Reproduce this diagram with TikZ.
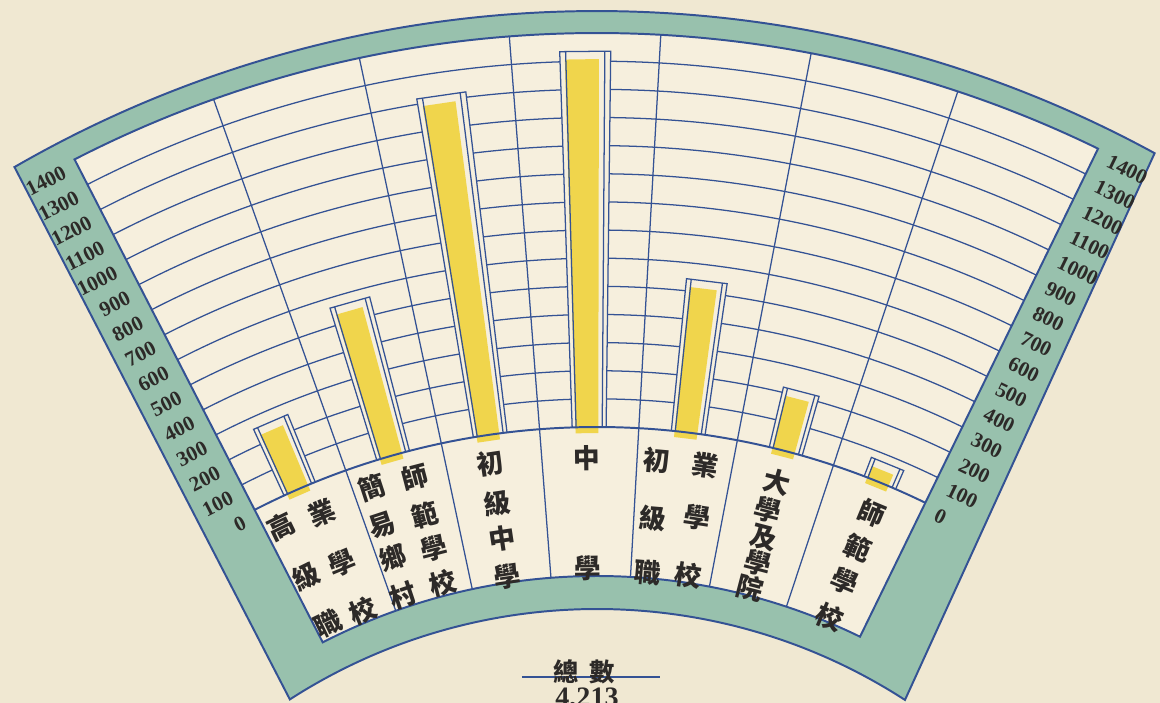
\documentclass[tikz,border=0pt]{standalone}
\usepackage{fontspec}
\setmainfont{Liberation Serif}
\newfontfamily\cjk{Noto Sans CJK TC}
\usepackage{tikz}
\usetikzlibrary{calc}

\definecolor{paper}{RGB}{240,232,210}
\definecolor{fanwhite}{RGB}{246,239,221}
\definecolor{bandgreen}{RGB}{152,193,173}
\definecolor{lineblue}{RGB}{52,82,148}
\definecolor{baryellow}{RGB}{240,213,76}
\definecolor{ink}{RGB}{45,42,40}

\begin{document}
\begin{tikzpicture}[
    x = 0.025cm, y = 0.025cm,
    gridline/.style = {draw=lineblue, line width=0.9pt},
    fanline/.style = {draw=lineblue, line width=1.4pt},
    numlabel/.style = {text=ink, inner sep=0pt, font=\fontsize{15}{15}\selectfont\bfseries},
    hanzi/.style = {text=ink, inner sep=0pt, font=\cjk\bfseries\fontsize{19}{19}\selectfont}
  ]
  \path[fill=paper, use as bounding box] (-597,473) rectangle (563,1176);

  % green frame and fan
  \path[fill=bandgreen, fanline] (61.4:1165) arc[start angle=61.4, end angle=120, radius=1165]
    -- (122.8:567) arc[start angle=122.8, end angle=57.1, radius=567] -- cycle;
  \path[fill=fanwhite] (64:600) -- (64:1143) arc[start angle=64, end angle=117.2, radius=1143]
    -- (117.2:600) arc[start angle=117.2, end angle=64, radius=600] -- cycle;

  % grid
  \foreach \v [evaluate=\v as \r using 749+28.14*\v] in {1,...,13}
    \draw[gridline] (64:\r) arc[start angle=64, end angle=117.2, radius=\r];
  \foreach \a in {109.6,102,94.4,86.8,79.2,71.6}
    \draw[gridline] (\a:600) -- (\a:1143);

  % bars
  \foreach \c/\v [evaluate=\v as \t using 749+0.2814*\v] in
      {113.4/259, 105.8/565, 98.2/1219, 90.6/1336, 83/543, 75.4/219, 67.8/72} {
    \fill[fanwhite] ({\c+1.3}:749) -- ({\c+1.3}:\t) -- ({\c-1.3}:\t) -- ({\c-1.3}:749) -- cycle;
    \fill[baryellow] ({\c+1.05}:743) -- ({\c+1.05}:{\t-8}) -- ({\c-0.7}:{\t-8}) -- ({\c-0.7}:743) -- cycle;
    \draw[gridline] ({\c+1.3}:749) -- ({\c+1.3}:\t) -- ({\c-1.3}:\t) -- ({\c-1.3}:749)
      ({\c+1}:749) -- ({\c+1}:\t) ({\c-1}:749) -- ({\c-1}:\t);
  }
  \draw[fanline] (64:749) arc[start angle=64, end angle=117.2, radius=749];
  \draw[fanline] (64:600) -- (64:1143) arc[start angle=64, end angle=117.2, radius=1143]
    -- (117.2:600) arc[start angle=117.2, end angle=64, radius=600] -- cycle;

  % scale
  \foreach \n [evaluate=\n as \r using 743+0.2814*\n] in {0,100,...,1400} {
    \node[numlabel, rotate=27.2, anchor=east] (left\n) at ($(117.2:\r)+(207.2:14)$) {\n};
    \node[numlabel, rotate=-26, anchor=west] (right\n) at ($(64:\r)+(-26:14)$) {\n};
  }

  % column titles
  \foreach \a/\r/\ch [count=\i] in {
      115.95/722/高, 115.9/667/級, 115.95/614/職, 112.5/718/業, 112.55/664/學, 112.5/612/校,
      108.1/724/簡, 108.3/685/易, 108.3/651/鄉, 108.45/612/村,
      104.6/722/師, 104.6/683/範, 104.6/649/學, 104.55/613/校,
      98.5/721/初, 98.45/680/級, 98.47/645/中, 98.54/606/學,
      90.8/718/中, 90.85/608/學,
      85.2/718/初, 85.14/660/級, 85.17/606/職, 81.36/719/業, 81.37/666/學, 81.39/608/校,
      75.45/717/大, 75.6/688/學, 75.4/660/及, 75.3/634/學, 75.4/608/院,
      67.47/718/師, 67.43/680/範, 67.34/644/學, 67.37/606/校}
    \node[hanzi, rotate=\a-90] (hz\i) at (\a:\r) {\ch};

  % total
  \draw[gridline] (-75,499) -- (63,499);
  \node[hanzi, font=\cjk\bfseries\fontsize{18}{18}\selectfont] (title) at (-13,504) {總\hspace{0.4em}數};
  \node[numlabel, font=\fontsize{20}{20}\selectfont\bfseries] (total) at (-10,477) {4,213};
\end{tikzpicture}
\end{document}
